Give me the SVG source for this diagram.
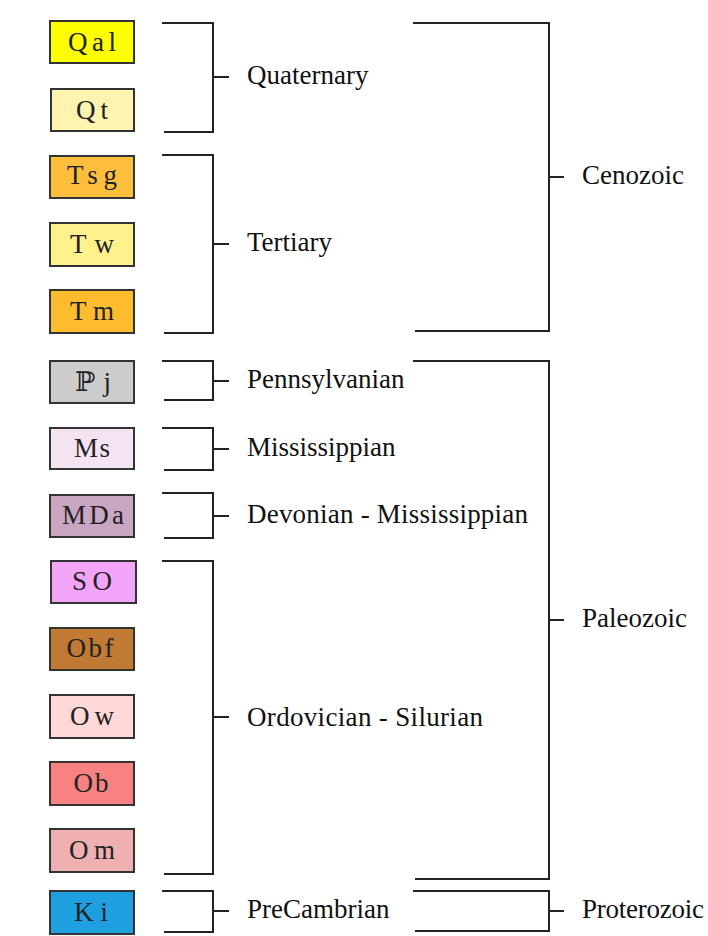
<svg xmlns="http://www.w3.org/2000/svg" width="708" height="936" viewBox="0 0 708 936">
<style>
.box{stroke:#333;stroke-width:2}
.bt{font-family:"Liberation Serif","DejaVu Serif",serif;font-size:27px;fill:#222;text-anchor:middle}
.lbl{font-family:"Liberation Serif","DejaVu Serif",serif;font-size:27px;fill:#111}
.br{fill:none;stroke:#222;stroke-width:2}
</style>
<rect width="708" height="936" fill="#fff"/>
<g id="Qal"><rect class="box" x="50" y="21" width="84" height="42" fill="#FFFF00"/><text class="bt" x="92" y="51" textLength="48" lengthAdjust="spacing">Qal</text></g>
<g id="Qt"><rect class="box" x="51" y="89" width="83" height="42" fill="#FFF3B0"/><text class="bt" x="92" y="119" textLength="32" lengthAdjust="spacing">Qt</text></g>
<g id="Tsg"><rect class="box" x="50" y="156" width="84" height="42" fill="#FDBE3C"/><text class="bt" x="92" y="184" textLength="50" lengthAdjust="spacing">Tsg</text></g>
<g id="Tw"><rect class="box" x="50" y="223" width="84" height="43" fill="#FFF28C"/><text class="bt" x="92" y="253" textLength="44" lengthAdjust="spacing">Tw</text></g>
<g id="Tm"><rect class="box" x="50" y="290" width="84" height="43" fill="#FDBB2E"/><text class="bt" x="92" y="320" textLength="44" lengthAdjust="spacing">Tm</text></g>
<g id="Pj"><rect class="box" x="50" y="361" width="84" height="42" fill="#CCCCCC"/><text class="bt" x="93" y="391" textLength="36" lengthAdjust="spacing">ℙj</text></g>
<g id="Ms"><rect class="box" x="50" y="428" width="84" height="41" fill="#F4E4F1"/><text class="bt" x="92" y="457" textLength="36" lengthAdjust="spacing">Ms</text></g>
<g id="MDa"><rect class="box" x="50" y="495" width="84" height="42" fill="#C9A7C2"/><text class="bt" x="93" y="524" textLength="62" lengthAdjust="spacing">MDa</text></g>
<g id="SO"><rect class="box" x="51" y="561" width="85" height="42" fill="#F2A4F8"/><text class="bt" x="92" y="590" textLength="40" lengthAdjust="spacing">SO</text></g>
<g id="Obf"><rect class="box" x="50" y="628" width="84" height="42" fill="#C17A34"/><text class="bt" x="90" y="657" textLength="47" lengthAdjust="spacing">Obf</text></g>
<g id="Ow"><rect class="box" x="50" y="695" width="84" height="43" fill="#FFD8D8"/><text class="bt" x="92" y="725" textLength="44" lengthAdjust="spacing">Ow</text></g>
<g id="Ob"><rect class="box" x="50" y="762" width="84" height="43" fill="#F88282"/><text class="bt" x="91" y="792" textLength="35" lengthAdjust="spacing">Ob</text></g>
<g id="Om"><rect class="box" x="50" y="829" width="84" height="43" fill="#EEB0B0"/><text class="bt" x="92" y="859" textLength="46" lengthAdjust="spacing">Om</text></g>
<g id="Ki"><rect class="box" x="50" y="891" width="84" height="43" fill="#1E9FE0"/><text class="bt" x="91" y="921" textLength="34" lengthAdjust="spacing">Ki</text></g>
<g id="connectors">
<path class="br" d="M162 23H213V132H164M213 77H229"/>
<path class="br" d="M162 155H213V333H164M213 244H229"/>
<path class="br" d="M162 361H213V400H164M213 381H229"/>
<path class="br" d="M162 428H213V470H164M213 449H229"/>
<path class="br" d="M162 493H213V538H164M213 516H229"/>
<path class="br" d="M162 561H213V874H164M213 717H229"/>
<path class="br" d="M162 891H213V932H164M213 911H229"/>
<path class="br" d="M413 23H549V331H415M549 177H564"/>
<path class="br" d="M413 361H549V879H415M549 620H564"/>
<path class="br" d="M413 891H549V931H415M549 911H564"/>
</g>
<g id="Quaternary"><text class="lbl" x="247" y="84">Quaternary</text></g>
<g id="Tertiary"><text class="lbl" x="247" y="251">Tertiary</text></g>
<g id="Pennsylvanian"><text class="lbl" x="247" y="388">Pennsylvanian</text></g>
<g id="Mississippian"><text class="lbl" x="247" y="456">Mississippian</text></g>
<g id="DevMiss"><text class="lbl" x="247" y="523" textLength="281" lengthAdjust="spacing">Devonian - Mississippian</text></g>
<g id="OrdSil"><text class="lbl" x="247" y="726" textLength="236" lengthAdjust="spacing">Ordovician - Silurian</text></g>
<g id="PreCambrian"><text class="lbl" x="247" y="918">PreCambrian</text></g>
<g id="Cenozoic"><text class="lbl" x="582" y="184">Cenozoic</text></g>
<g id="Paleozoic"><text class="lbl" x="582" y="627">Paleozoic</text></g>
<g id="Proterozoic"><text class="lbl" x="582" y="918" textLength="122" lengthAdjust="spacing">Proterozoic</text></g>
</svg>
